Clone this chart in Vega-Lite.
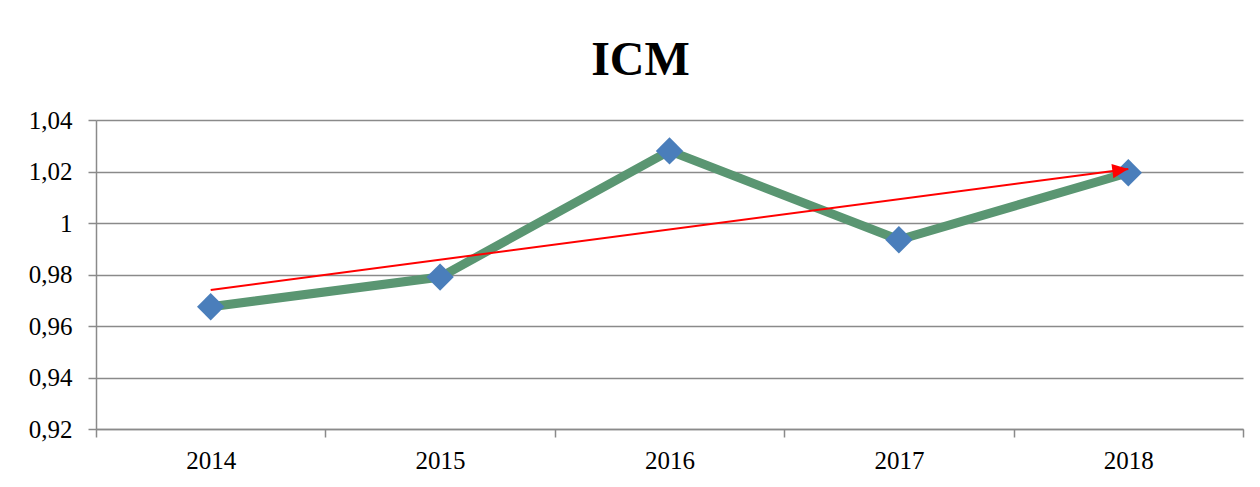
{
  "$schema": "https://vega.github.io/schema/vega-lite/v6.json",
  "width": 1147,
  "height": 309,
  "autosize": {"type": "none"},
  "padding": {"left": 96, "top": 120, "right": 17, "bottom": 58},
  "background": "white",
  "title": {
    "text": "ICM",
    "font": "Liberation Serif",
    "fontSize": 48,
    "fontWeight": "bold",
    "color": "black",
    "anchor": "middle",
    "baseline": "alphabetic",
    "offset": -15,
    "dx": -29
  },
  "datasets": {
    "icm": [
      {"year": "2014", "icm": 0.9675},
      {"year": "2015", "icm": 0.979},
      {"year": "2016", "icm": 1.028},
      {"year": "2017", "icm": 0.9935},
      {"year": "2018", "icm": 1.0195}
    ],
    "trend": [
      {"year": "2014", "trend": 0.974},
      {"year": "2018", "trend": 1.021}
    ]
  },
  "config": {
    "view": {"stroke": null},
    "axis": {
      "labelFont": "Liberation Serif",
      "labelFontSize": 25,
      "labelColor": "black",
      "domainColor": "#8a8a8a",
      "domainWidth": 1.5,
      "tickColor": "#8a8a8a",
      "tickWidth": 1.5,
      "tickSize": 8,
      "gridColor": "#8a8a8a",
      "gridWidth": 1.5,
      "title": null
    }
  },
  "encoding": {
    "x": {
      "field": "year",
      "type": "ordinal",
      "bandPosition": 0.5,
      "scale": {"type": "band", "paddingInner": 0, "paddingOuter": 0, "domain": ["2014", "2015", "2016", "2017", "2018"]},
      "axis": {"labelAngle": 0, "grid": false, "tickBand": "extent", "labelPadding": 11, "title": null}
    }
  },
  "layer": [
    {
      "data": {"name": "icm"},
      "mark": {"type": "line", "color": "#5A9672", "strokeWidth": 9, "strokeJoin": "miter"},
      "encoding": {
        "y": {
          "field": "icm",
          "type": "quantitative",
          "scale": {"domain": [0.92, 1.04], "nice": false, "zero": false},
          "axis": {
            "values": [0.92, 0.94, 0.96, 0.98, 1, 1.02, 1.04],
            "labelExpr": "replace(format(datum.value, '.2~f'), '.', ',')",
            "grid": true,
            "labelPadding": 16,
            "title": null
          }
        }
      }
    },
    {
      "data": {"name": "icm"},
      "mark": {"type": "point", "shape": "diamond", "filled": true, "color": "#4A7EBB", "opacity": 1, "size": 750},
      "encoding": {
        "y": {"field": "icm", "type": "quantitative"}
      }
    },
    {
      "data": {"name": "trend"},
      "mark": {"type": "line", "color": "#FF0000", "strokeWidth": 2},
      "encoding": {
        "y": {"field": "trend", "type": "quantitative"}
      }
    },
    {
      "data": {"name": "trend"},
      "transform": [{"filter": "datum.year == '2018'"}],
      "mark": {"type": "point", "shape": "M0,0L-2,-0.9L-2,0.9Z", "filled": true, "color": "#FF0000", "opacity": 1, "size": 256, "angle": -7.5},
      "encoding": {
        "y": {"field": "trend", "type": "quantitative"}
      }
    }
  ]
}
